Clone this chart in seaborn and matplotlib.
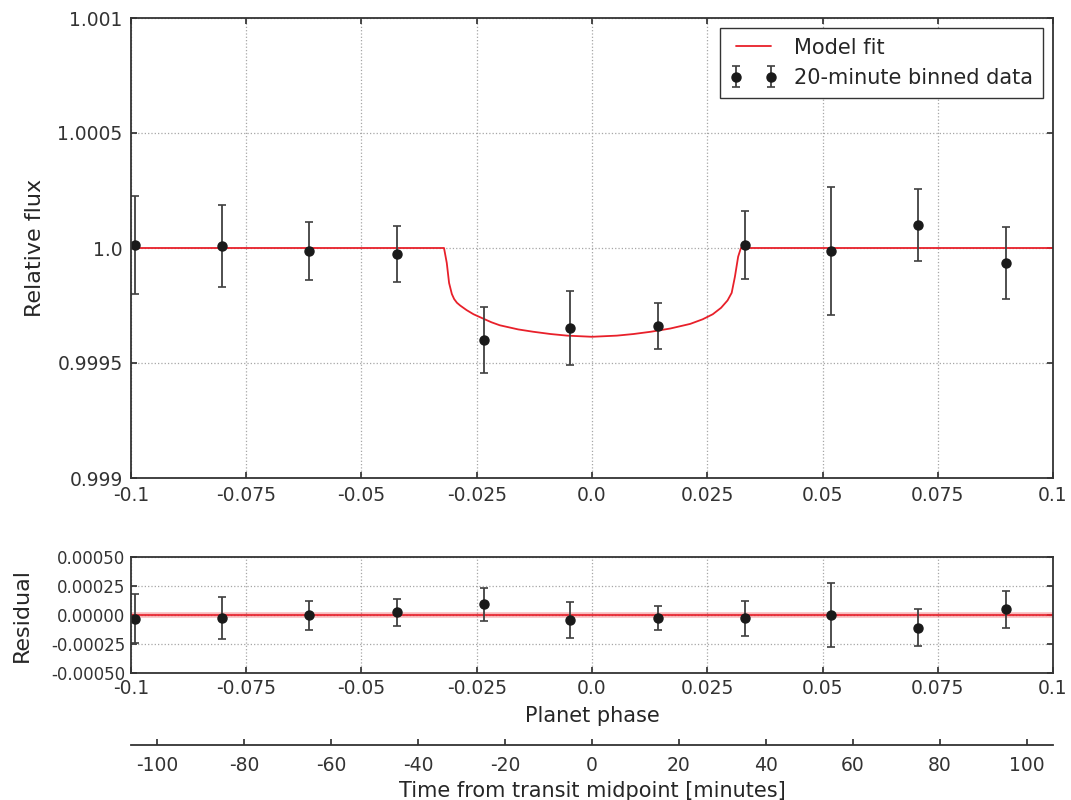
import matplotlib
matplotlib.use("Agg")
import matplotlib.pyplot as plt
import seaborn as sns
import pandas as pd

# binned data
phase = [-0.0991, -0.0803, -0.0614, -0.0423, -0.0235, -0.0048,
         0.0143, 0.0332, 0.0518, 0.0707, 0.0897]
flux = [1.000013, 1.0000087, 0.999987, 0.999974, 0.999600, 0.999652,
        0.999661, 1.000013, 0.999987, 1.000100, 0.999935]
flux_err = [2.13e-4, 1.78e-4, 1.26e-4, 1.20e-4, 1.43e-4, 1.59e-4,
            1.02e-4, 1.48e-4, 2.78e-4, 1.57e-4, 1.57e-4]
residual = [-3.1e-5, -2.6e-5, -0.3e-5, 2.2e-5, 9.2e-5, -4.3e-5,
            -2.8e-5, -3.0e-5, 0.0, -1.09e-4, 4.9e-5]

# model curve
model_phase = [-0.1, -0.0321, -0.0315, -0.0310, -0.0304, -0.0299, -0.0293,
               -0.0286, -0.0272, -0.0257, -0.0236, -0.0218, -0.0200,
               -0.0160, -0.0128, -0.0090, -0.0054, 0.0, 0.0054, 0.0090,
               0.0128, 0.0170, 0.0213, 0.0240, 0.0262, 0.0280, 0.0294,
               0.0303, 0.0310, 0.0317, 0.0323, 0.1]
model_flux = [1.0, 1.0, 0.999935, 0.999848, 0.999800, 0.999778, 0.999762,
              0.999750, 0.999730, 0.999712, 0.999693, 0.999677, 0.999664,
              0.999646, 0.999636, 0.999626, 0.999619, 0.999614, 0.999619,
              0.999626, 0.999636, 0.999650, 0.999670, 0.999690, 0.999712,
              0.999740, 0.999772, 0.999805, 0.999875, 0.999962, 1.0, 1.0]
resid_line_phase = [-0.1, 0.1]
resid_line_value = [0.0, 0.0]

phase_ticks = [-0.1, -0.075, -0.05, -0.025, 0.0, 0.025, 0.05, 0.075, 0.1]
phase_labels = ["-0.1", "-0.075", "-0.05", "-0.025", "0.0", "0.025", "0.05", "0.075", "0.1"]
flux_ticks = [0.999, 0.9995, 1.0, 1.0005, 1.001]
flux_labels = ["0.999", "0.9995", "1.0", "1.0005", "1.001"]
resid_ticks = [-0.0005, -0.00025, 0.0, 0.00025, 0.0005]
resid_labels = ["-0.00050", "-0.00025", "0.00000", "0.00025", "0.00050"]
minute_ticks = [-100, -80, -60, -40, -20, 0, 20, 40, 60, 80, 100]
minute_labels = ["-100", "-80", "-60", "-40", "-20", "0", "20", "40", "60", "80", "100"]
minute_lim = 106.1

sns.set_theme(style="ticks")
plt.rcParams.update({
    "font.family": ["DejaVu Sans"],
    "axes.unicode_minus": False,
    "xtick.direction": "in", "ytick.direction": "in",
    "xtick.top": True, "ytick.right": True,
    "xtick.major.size": 4, "ytick.major.size": 4,
    "axes.edgecolor": "0.2", "axes.linewidth": 1.3,
    "xtick.color": "0.2", "ytick.color": "0.2",
    "text.color": "0.15", "axes.labelcolor": "0.15",
})

fig = plt.figure(figsize=(10.71, 8), dpi=100)
ax = fig.add_axes([0.1223, 0.4025, 0.8609, 0.575])
ax_res = fig.add_axes([0.1223, 0.15875, 0.8609, 0.145])

grid_kw = dict(color="0.65", linestyle=":", linewidth=0.9)
err_kw = dict(fmt="o", color="k", ecolor="0.25", ms=6.5, capsize=3,
              elinewidth=1.3, capthick=1.2)

# top: light curve
model_df = pd.DataFrame({"phase": model_phase, "flux": model_flux})
sns.lineplot(data=model_df, x="phase", y="flux", ax=ax, color="#e8202a",
             lw=1.3, sort=False, label="Model fit")
ax.errorbar(phase, flux, yerr=flux_err, label="20-minute binned data", **err_kw)
ax.set_xlim(-0.1, 0.1)
ax.set_ylim(0.999, 1.001)
ax.set_xticks(phase_ticks)
ax.set_xticklabels(phase_labels)
ax.set_yticks(flux_ticks)
ax.set_yticklabels(flux_labels)
ax.tick_params(labelsize=13.5, pad=6)
ax.set_xlabel("")
ax.set_ylabel("Relative flux", fontsize=16, labelpad=9)
ax.grid(True, **grid_kw)
ax.legend(loc="upper right", numpoints=2, fontsize=15, fancybox=False,
          framealpha=1, edgecolor="0.2", handlelength=2.3, borderpad=0.45)

# bottom: residuals
line_df = pd.DataFrame({"phase": resid_line_phase, "value": resid_line_value})
sns.lineplot(data=line_df, x="phase", y="value", ax=ax_res, color="#e8202a",
             lw=4, alpha=0.3)
sns.lineplot(data=line_df, x="phase", y="value", ax=ax_res, color="#e8202a", lw=1.2)
ax_res.errorbar(phase, residual, yerr=flux_err, **err_kw)
ax_res.set_xlim(-0.1, 0.1)
ax_res.set_ylim(-0.0005, 0.0005)
ax_res.set_xticks(phase_ticks)
ax_res.set_xticklabels(phase_labels)
ax_res.set_yticks(resid_ticks)
ax_res.set_yticklabels(resid_labels)
ax_res.tick_params(axis="x", labelsize=13.5, pad=4)
ax_res.tick_params(axis="y", labelsize=12, pad=4)
ax_res.set_xlabel("Planet phase", fontsize=15, labelpad=6)
ax_res.set_ylabel("Residual", fontsize=16, labelpad=14)
ax_res.grid(True, **grid_kw)

# extra time axis
ax_time = ax_res.twiny()
ax_time.set_xlim(-minute_lim, minute_lim)
ax_time.xaxis.set_ticks_position("bottom")
ax_time.xaxis.set_label_position("bottom")
ax_time.spines["bottom"].set_position(("outward", 52))
for s in ["top", "left", "right"]:
    ax_time.spines[s].set_visible(False)
ax_time.set_xticks(minute_ticks)
ax_time.set_xticklabels(minute_labels)
ax_time.tick_params(axis="x", labelsize=13.5, pad=8)
ax_time.set_xlabel("Time from transit midpoint [minutes]", fontsize=15, labelpad=4)

fig.savefig("out.png", dpi=100)
